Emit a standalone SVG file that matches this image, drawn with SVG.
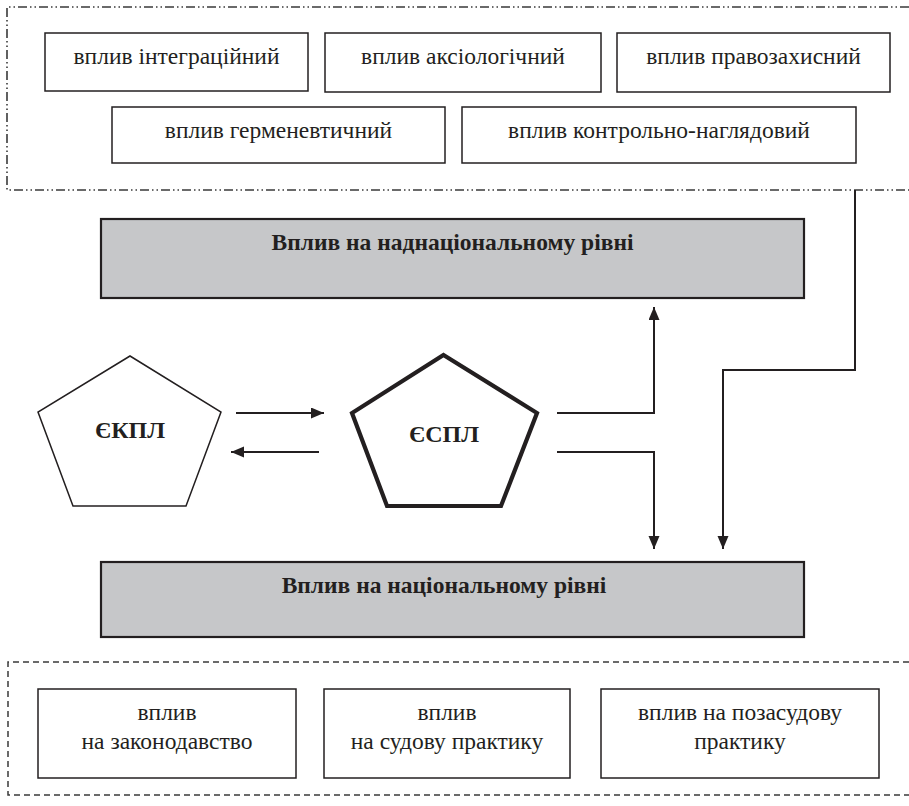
<svg xmlns="http://www.w3.org/2000/svg" width="909" height="806" viewBox="0 0 909 806">
<style>
.box{fill:#fff;stroke:#231f20;stroke-width:1.5}
.gray{fill:#c6c7c9;stroke:#231f20;stroke-width:2.2}
text{font-family:"Liberation Serif","Times New Roman",serif;font-size:23.5px;fill:#231f20;text-anchor:middle}
.b{font-weight:bold}
.pb{font-weight:bold;font-size:24px}
.dd{fill:none;stroke:#3a3a3a;stroke-width:1.6;stroke-dasharray:9 3 1.5 3 1.5 3}
.da{fill:none;stroke:#3a3a3a;stroke-width:1.5;stroke-dasharray:6 4}
.c{fill:none;stroke:#231f20;stroke-width:2}
</style>
<defs>
<marker id="ah" markerUnits="userSpaceOnUse" markerWidth="14" markerHeight="12" refX="13" refY="5.5" orient="auto">
<path d="M0,0 L13,5.5 L0,11 Z" fill="#231f20"/>
</marker>
</defs>
<g id="top-container">
<path class="dd" d="M909,7 H7 V190 H909"/>
</g>
<g id="n-integr"><rect class="box" x="45" y="33" width="263" height="58"/><text x="176.5" y="63.5">вплив інтеграційний</text></g>
<g id="n-aksio"><rect class="box" x="325" y="33" width="276" height="59"/><text x="463" y="63.5">вплив аксіологічний</text></g>
<g id="n-pravo"><rect class="box" x="617" y="33" width="273" height="59"/><text x="753.5" y="63.5">вплив правозахисний</text></g>
<g id="n-hermen"><rect class="box" x="112" y="107" width="333" height="56"/><text x="278.5" y="137.5">вплив герменевтичний</text></g>
<g id="n-kontrol"><rect class="box" x="462" y="107" width="394" height="56"/><text x="659" y="137.5">вплив контрольно-наглядовий</text></g>
<g id="n-supra"><rect class="gray" x="101" y="219" width="703" height="79"/><text class="b" x="452.5" y="250">Вплив на наднаціональному рівні</text></g>
<g id="n-ekpl"><polygon points="130,356 221,412 186,506 73,506 38,412" fill="#fff" stroke="#231f20" stroke-width="1.5"/><text class="pb" x="130" y="438">ЄКПЛ</text></g>
<g id="n-espl"><polygon points="443.5,355 537,413 501,506 387,506 352,413" fill="#fff" stroke="#231f20" stroke-width="4.2"/><text class="pb" x="444" y="442">ЄСПЛ</text></g>
<g id="n-nat"><rect class="gray" x="101" y="562" width="703" height="75"/><text class="b" x="444" y="593">Вплив на національному рівні</text></g>
<g id="bottom-container">
<path class="da" d="M909,662 H8 V795 H909"/>
</g>
<g id="n-zakon"><rect class="box" x="38" y="689" width="258" height="89"/><text x="167" y="720">вплив</text><text x="167" y="749">на законодавство</text></g>
<g id="n-sud"><rect class="box" x="324" y="689" width="246" height="89"/><text x="447" y="720">вплив</text><text x="447" y="749">на судову практику</text></g>
<g id="n-pozasud"><rect class="box" x="601" y="689" width="278" height="89"/><text x="740" y="720">вплив на позасудову</text><text x="740" y="749">практику</text></g>
<g id="connectors">
<line class="c" x1="236" y1="413" x2="324" y2="413" marker-end="url(#ah)"/>
<line class="c" x1="319" y1="452" x2="231" y2="452" marker-end="url(#ah)"/>
<polyline class="c" points="557,413 654,413 654,307" marker-end="url(#ah)"/>
<polyline class="c" points="557,452 654,452 654,549" marker-end="url(#ah)"/>
<polyline class="c" points="855,190 855,370 723,370 723,549" marker-end="url(#ah)"/>
</g>
</svg>
